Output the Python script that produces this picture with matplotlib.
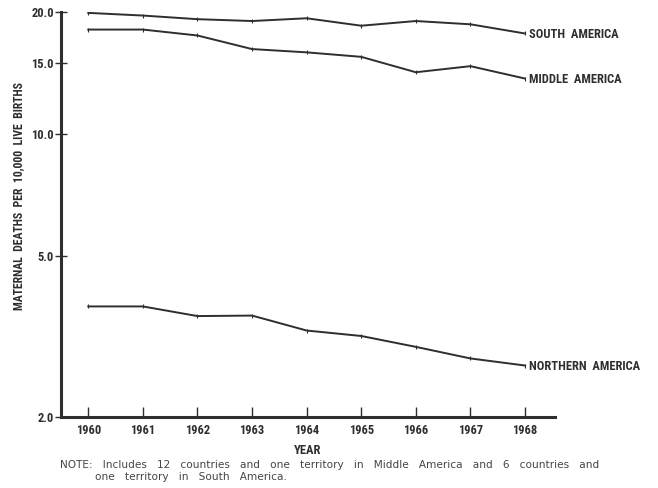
# Maternal mortality, the Americas, 1960-1968 (log scale)
import matplotlib
matplotlib.use("Agg")
import matplotlib.pyplot as plt
from matplotlib.ticker import FixedLocator, NullLocator, FixedFormatter

years = [1960, 1961, 1962, 1963, 1964, 1965, 1966, 1967, 1968]
south_america = [19.9, 19.6, 19.2, 19.0, 19.3, 18.5, 19.0, 18.65, 17.7]
middle_america = [18.1, 18.1, 17.5, 16.2, 15.9, 15.5, 14.2, 14.7, 13.7]
northern_america = [3.75, 3.75, 3.55, 3.56, 3.27, 3.17, 2.98, 2.79, 2.68]
series_names = ["SOUTH  AMERICA", "MIDDLE  AMERICA", "NORTHERN  AMERICA"]
yticks = [2.0, 5.0, 10.0, 15.0, 20.0]

ink = "#2e2e2e"
narrow = ["Roboto Condensed", "DejaVu Sans"]

fig = plt.figure(figsize=(6.58, 4.88), dpi=100)
ax = fig.add_axes((0.0927, 0.1455, 0.7508, 0.8299))

for vals, name in zip([south_america, middle_america, northern_america], series_names):
    ax.plot(years, vals, color=ink, lw=1.4, marker="|", ms=3, mew=0.8)
    ax.annotate(name, (years[-1], vals[-1]), xytext=(3, -1), textcoords="offset points",
                va="center", ha="left", fontsize=9, fontweight="bold",
                family=narrow, color=ink)

ax.set_yscale("log")
ax.set_ylim(2.0, 20.0)
ax.set_xlim(1959.5, 1968.55)
ax.yaxis.set_major_locator(FixedLocator(yticks))
ax.yaxis.set_major_formatter(FixedFormatter(["%.1f" % v for v in yticks]))
ax.yaxis.set_minor_locator(NullLocator())
ax.set_xticks(years)

for s in ["top", "right"]:
    ax.spines[s].set_visible(False)
for s in ["left", "bottom"]:
    ax.spines[s].set_linewidth(2.2)
    ax.spines[s].set_color(ink)

ax.tick_params(axis="x", direction="in", length=7, width=1, colors=ink, pad=5)
ax.tick_params(axis="y", direction="inout", length=8, width=1, colors=ink, pad=1)
for lab in ax.get_xticklabels() + ax.get_yticklabels():
    lab.set_family(narrow)
    lab.set_fontweight("bold")
    lab.set_fontsize(9)

ax.set_xlabel("YEAR", family=narrow, fontweight="bold", fontsize=9, color=ink, labelpad=5)
fig.text(19 / 658, 1 - 196 / 488, "MATERNAL  DEATHS  PER  10,000  LIVE  BIRTHS",
         rotation=90, ha="center", va="center", family=narrow, fontweight="bold",
         fontsize=8.5, color=ink)

# footnote, letter-spaced with wide gaps between words
note_font = dict(fontsize=7.6, color="#454545", family="DejaVu Sans")
fig.text(60 / 658, 1 - 465 / 488,
         "NOTE:   Includes   12   countries   and   one   territory   in   Middle   America   and   6   countries   and",
         va="center", **note_font)
fig.text(95 / 658, 1 - 477 / 488, "one   territory   in   South   America.", va="center", **note_font)

fig.savefig("out.png", dpi=100, facecolor="white")
